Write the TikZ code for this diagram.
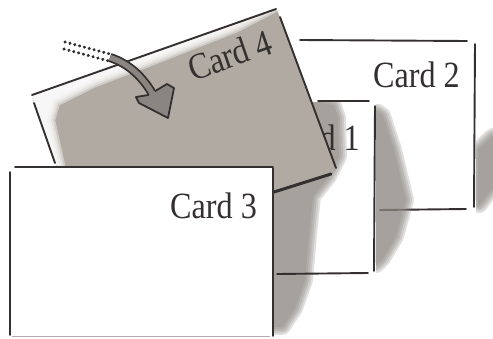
\documentclass[tikz,border=0pt]{standalone}
\usepackage{fontspec}
\setmainfont{Liberation Serif}
\definecolor{ink}{RGB}{52,48,48}
\definecolor{shade}{RGB}{140,134,127}
\definecolor{cardgrey}{RGB}{176,170,162}
\definecolor{arrowgrey}{RGB}{138,133,128}
\newcommand\softpoly[3][0.25]{\foreach \w in {18,14,10,6,2}{\begin{scope}[transparency group, opacity=#1]\filldraw[fill=#2,draw=#2,line width=\w pt,line join=round] #3;\end{scope}}}
\tikzset{
  edge/.style={ink, line width=1.9pt, line cap=round},
  cardlabel/.style={inner sep=0pt, font=\fontsize{37}{40}\selectfont, text=ink},
  arrowline/.style={ink, line width=1.8pt, double=arrowgrey, double distance=5.5pt}
}
\begin{document}
\begin{tikzpicture}[x=1pt,y=-1pt]
\useasboundingbox (0,0) rectangle (493,338);
\fill[white] (0,0) rectangle (493,338);

% ---- Card 2
\fill[white] (288,40) rectangle (475,209);
\begin{scope}
  \clip (476.5,100) rectangle (500,250);
  \softpoly{shade}{(479,150) -- (493,137) -- (493,186) -- (479,204) -- cycle}
\end{scope}
\draw[edge] (300,40) -- (467,41);
\draw[edge] (475,44) -- (474,207);
\draw[edge] (380,210) -- (466,209);
\node[cardlabel, anchor=base east] (t2) at (460,87) {\scalebox{0.87}[1]{Card 2}};

% ---- shadow of card 1
\begin{scope}
  \clip (376,104) rectangle (440,280);
  \softpoly{shade}{(376,112) -- (382,116) -- (393,150) -- (405,200) -- (395,236) -- (382,258) -- (376,264) -- cycle}
\end{scope}

% ---- Card 1
\fill[white] (276,100) rectangle (375,274);
\begin{scope}
  \clip (265,102) rectangle (374,338);
  \softpoly{shade}{(305,100) -- (333,106) -- (337,118) -- (338,156) -- (328,176) -- (312,196) -- (308,235) -- (304,280) -- (294,308) -- (282,326) -- (270,326) -- (270,170) -- cycle}
\end{scope}
\node[cardlabel, anchor=base east] (t1) at (360,150) {\scalebox{0.87}[1]{Card 1}};
\draw[edge] (318,101) -- (369,101);
\draw[edge] (375,106) -- (374,271);
\draw[edge] (277,274) -- (368,273);

% ---- Card 4
\fill[cardgrey] (31.5,95) -- (277,9.5) -- (336,171) -- (89,257) -- cycle;
\begin{scope}
  \clip (31.5,95) -- (277,9.5) -- (336,171) -- (89,257) -- cycle;
  \softpoly[0.4]{white}{(20,60) -- (280,0) -- (234,24) -- (150,57) -- (92,79) -- (52,99) -- (46,120) -- (56,165) -- (62,200) -- (20,200) -- cycle}
\end{scope}
\node[cardlabel, rotate=19, anchor=base] (t4) at (234,67) {\scalebox{0.87}[1]{Card 4}};
\draw[edge] (32,95) -- (276,9);
\draw[edge] (34,103) -- (55,163);
\draw[edge] (280,17) -- (336,168);
\draw[edge, line width=3pt] (331,174) -- (274,192);

% ---- Card 3
\fill[white] (10,167) rectangle (273,336);
\draw[edge] (15,167) -- (273,167);
\draw[edge] (10,172) -- (10,335);
\draw[edge] (273,168) -- (273,336);
\draw[ink!40, line width=1pt] (12,336.5) -- (270,336.5);
\node[cardlabel, anchor=base west] (t3) at (170,218) {\scalebox{0.87}[1]{Card 3}};

% ---- Arrow
\draw[ink, line width=3.2pt, line cap=round, dash pattern=on 0.2pt off 4.8pt] (65,42) -- (110,54);
\draw[ink, line width=3.2pt, line cap=round, dash pattern=on 0.2pt off 4.8pt] (64,49) -- (109,61);
\draw[arrowline] (110,57.5) .. controls (130,64) and (143,78) .. (152,93);
\fill[arrowgrey] (148.9,94.9) -- (136,97) -- (139,103) -- (168,118) -- (174,88) -- (167,84) -- (155.1,91.1) -- cycle;
\draw[ink, line width=1.8pt, line join=round] (148.9,94.9) -- (136,97) -- (139,103) -- (168,118) -- (174,88) -- (167,84) -- (155.1,91.1);
\end{tikzpicture}
\end{document}
